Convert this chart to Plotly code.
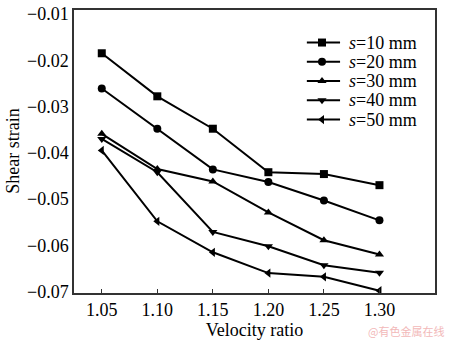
import plotly.graph_objects as go

velocity_ratio = [1.05, 1.10, 1.15, 1.20, 1.25, 1.30]
s10 = [-0.0185, -0.0278, -0.0348, -0.0442, -0.0446, -0.0470]
s20 = [-0.0261, -0.0348, -0.0436, -0.0463, -0.0503, -0.0546]
s30 = [-0.0359, -0.0435, -0.0462, -0.0529, -0.0589, -0.0620]
s40 = [-0.0370, -0.0442, -0.0571, -0.0602, -0.0643, -0.0659]
s50 = [-0.0395, -0.0548, -0.0615, -0.0660, -0.0668, -0.0698]

series_names = ["<i>s</i>=10 mm", "<i>s</i>=20 mm", "<i>s</i>=30 mm", "<i>s</i>=40 mm", "<i>s</i>=50 mm"]
series_values = [s10, s20, s30, s40, s50]
symbols = ["square", "circle", "triangle-up", "triangle-down", "triangle-left"]

x_ticks = [1.05, 1.10, 1.15, 1.20, 1.25, 1.30, 1.35]
y_ticks = [-0.07, -0.06, -0.05, -0.04, -0.03, -0.02, -0.01]

font_family = "Liberation Serif, Times New Roman, serif"
FS = 18

fig = go.Figure()
for name, vals, sym in zip(series_names, series_values, symbols):
    fig.add_trace(go.Scatter(
        x=velocity_ratio, y=vals, name=name, mode="lines+markers",
        line=dict(color="black", width=2),
        marker=dict(symbol=sym, size=8, color="black"),
        showlegend=False,
    ))

# manual legend drawn on an overlay axis spanning the plot area (0..1)
leg_x0, leg_xm, leg_x1, leg_xt = 0.645, 0.687, 0.737, 0.757
leg_y = [0.885, 0.817, 0.749, 0.681, 0.613]
for name, sym, ly in zip(series_names, symbols, leg_y):
    fig.add_trace(go.Scatter(
        x=[leg_x0, leg_x1], y=[ly, ly], mode="lines", xaxis="x2", yaxis="y2",
        line=dict(color="black", width=2), showlegend=False, hoverinfo="skip"))
    fig.add_trace(go.Scatter(
        x=[leg_xm], y=[ly], mode="markers", xaxis="x2", yaxis="y2",
        marker=dict(symbol=sym, size=8, color="black"), showlegend=False, hoverinfo="skip"))
    fig.add_annotation(text=name, xref="x2", yref="y2", x=leg_xt, y=ly,
                       xanchor="left", yanchor="middle", showarrow=False,
                       font=dict(family=font_family, size=FS, color="black"))

fig.update_layout(
    width=450, height=341,
    margin=dict(l=74, r=15, t=4, b=48),
    paper_bgcolor="white", plot_bgcolor="white",
    font=dict(family=font_family, size=FS, color="black"),
    showlegend=False,
    xaxis=dict(range=[1.025, 1.35], tickvals=x_ticks,
               ticktext=[f"{v:.2f}" for v in x_ticks],
               showline=True, linecolor="#333", linewidth=1.5, mirror=True,
               ticks="inside", ticklen=4, tickcolor="#333", showgrid=False, zeroline=False,
               tickfont=dict(size=FS),
               title=dict(text="Velocity ratio", font=dict(size=FS), standoff=4)),
    yaxis=dict(range=[-0.0703, -0.00915], tickvals=y_ticks,
               ticktext=["\u2212" + f"{abs(v):.2f}" for v in y_ticks],
               showline=True, linecolor="#333", linewidth=1.5, mirror=True,
               ticks="", showgrid=False, zeroline=False,
               tickfont=dict(size=FS)),
    xaxis2=dict(range=[0, 1], overlaying="x", visible=False, fixedrange=True),
    yaxis2=dict(range=[0, 1], overlaying="y", visible=False, fixedrange=True),
)

fig.add_annotation(text="Shear strain", xref="paper", yref="paper",
                   x=-0.171, y=0.5, xanchor="center", yanchor="middle",
                   textangle=-90, showarrow=False,
                   font=dict(family=font_family, size=FS, color="black"))

fig.add_annotation(text="@有色金属在线", xref="paper", yref="paper",
                   x=1.03, y=-0.135, xanchor="right", yanchor="middle", showarrow=False,
                   font=dict(family="Noto Sans CJK SC", size=11, color="#f2b9b9"))

fig.write_html("out.html")
